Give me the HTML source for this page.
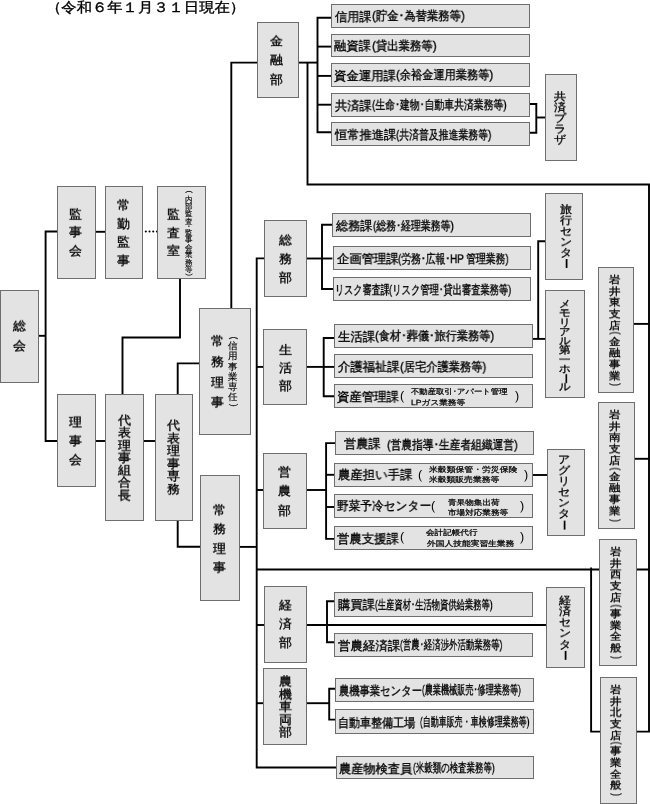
<!DOCTYPE html>
<html lang="ja"><head><meta charset="utf-8"><title>組織図</title><style>
html,body{margin:0;padding:0;background:#fff}
body{width:650px;height:804px;position:relative;overflow:hidden;font-family:"Liberation Sans",sans-serif;color:#000;font-weight:normal;text-rendering:geometricPrecision;-webkit-text-stroke:0.35px #000}
.g{position:absolute;left:0;top:0}
.t{position:absolute;white-space:nowrap;line-height:1;transform-origin:0 0;will-change:transform}
.v{width:1em;text-align:center;white-space:normal;word-break:break-all;line-break:anywhere}
.r{display:inline-block;transform:rotate(90deg)}
.p{display:block;transform:rotate(90deg) scaleX(.75)}
.d{display:block}

</style></head><body>
<svg class="g" width="650" height="804" viewBox="0 0 650 804">
<g fill="none" stroke="#000" stroke-width="1.9" stroke-linejoin="miter" stroke-linecap="butt">
<polyline points="38.3,335.8 45.6,335.8"/>
<polyline points="57.4,231.5 45.6,231.5 45.6,441 57.4,441"/>
<polyline points="95.7,231.8 105.3,231.8"/>
<polyline points="180,278.3 180,337.5 122.5,337.5 122.5,394.5"/>
<polyline points="95.7,441 105.3,441"/>
<polyline points="143.2,441 155.4,441"/>
<polyline points="177.7,394.5 177.7,363.4 199.5,363.4"/>
<polyline points="177.7,520.3 177.7,546.8 200.5,546.8"/>
<polyline points="231.3,308.7 231.3,62.6 257.3,62.6"/>
<polyline points="298.3,62.6 317.5,62.6"/>
<polyline points="331.1,17.8 317.5,17.8 317.5,132.3 331.1,132.3"/>
<polyline points="317.5,46.6 331.1,46.6"/>
<polyline points="317.5,75.9 331.1,75.9"/>
<polyline points="317.5,104.7 331.1,104.7"/>
<polyline points="307.5,62.6 307.5,184.5 649,184.5 649,731.6 636,731.6"/>
<polyline points="633.9,323.9 649,323.9"/>
<polyline points="634.9,458.8 649,458.8"/>
<polyline points="264.5,258.4 256.7,258.4 256.7,767.5 336,767.5"/>
<polyline points="256.7,366.9 263.8,366.9"/>
<polyline points="256.7,490 263.8,490"/>
<polyline points="239.4,546.9 256.7,546.9"/>
<polyline points="256.7,569.5 649,569.5"/>
<polyline points="256.7,625 264.5,625"/>
<polyline points="306.4,625 546.7,625"/>
<polyline points="256.7,703.2 263.8,703.2"/>
<polyline points="306.4,703.2 329.2,703.2"/>
<polyline points="306.4,258.5 332.4,258.5"/>
<polyline points="332.4,224.7 322,224.7 322,289 333.2,289"/>
<polyline points="306.4,366.9 334.2,366.9"/>
<polyline points="334.2,338 323.7,338 323.7,396.3 334.2,396.3"/>
<polyline points="306.4,490 326.1,490"/>
<polyline points="335.3,443.1 326.1,443.1 326.1,538.9 334.9,538.9"/>
<polyline points="326,474.8 335,474.8"/>
<polyline points="326,507 335,507"/>
<polyline points="334.6,601.2 327,601.2 327,642.3 334.6,642.3"/>
<polyline points="335.3,688.8 329.2,688.8 329.2,719.6 335.3,719.6"/>
<polyline points="529.1,104 536.3,104 536.3,132.7 529.1,132.7"/>
<polyline points="536.3,117.5 545.1,117.5"/>
<polyline points="545.4,241.3 538.2,241.3 538.2,338.9"/>
<polyline points="532.1,338.9 545.3,338.9"/>
<polyline points="533,475 547.2,475"/>
<polyline points="591.1,567.4 591.1,731.6 600.4,731.6"/>
<line x1="145.8" y1="231.5" x2="157.2" y2="231.5" stroke-width="2.1" stroke-linecap="round" stroke-dasharray="0.01 3.7"/>
</g>
<g fill="#e3e3e3" stroke="#6e6e6e" stroke-width="1">
<rect x="0.5" y="290.5" width="38" height="92"/>
<rect x="57.5" y="186.5" width="38" height="92"/>
<rect x="105.5" y="186.5" width="37" height="92"/>
<rect x="157.5" y="186.5" width="48" height="92"/>
<rect x="57.5" y="394.5" width="38" height="92"/>
<rect x="105.5" y="394.5" width="38" height="126"/>
<rect x="155.5" y="394.5" width="37" height="126"/>
<rect x="199.5" y="308.5" width="51" height="126"/>
<rect x="200.5" y="475.5" width="39" height="125"/>
<rect x="257.5" y="22.5" width="41" height="75"/>
<rect x="264.5" y="220.5" width="42" height="76"/>
<rect x="263.5" y="329.5" width="43" height="75"/>
<rect x="263.5" y="453.5" width="43" height="75"/>
<rect x="264.5" y="586.5" width="42" height="76"/>
<rect x="263.5" y="668.5" width="43" height="76"/>
<rect x="331.5" y="4.5" width="198" height="23"/>
<rect x="331.5" y="34.5" width="198" height="22"/>
<rect x="331.5" y="63.5" width="198" height="23"/>
<rect x="331.5" y="93.5" width="198" height="23"/>
<rect x="331.5" y="122.5" width="198" height="23"/>
<rect x="332.5" y="213.5" width="198" height="23"/>
<rect x="333.5" y="246.5" width="197" height="23"/>
<rect x="333.5" y="277.5" width="197" height="23"/>
<rect x="334.5" y="324.5" width="198" height="23"/>
<rect x="334.5" y="354.5" width="198" height="23"/>
<rect x="334.5" y="384.5" width="198" height="23"/>
<rect x="335.5" y="431.5" width="198" height="23"/>
<rect x="334.5" y="463.5" width="198" height="23"/>
<rect x="334.5" y="494.5" width="198" height="23"/>
<rect x="334.5" y="526.5" width="198" height="23"/>
<rect x="334.5" y="592.5" width="198" height="24"/>
<rect x="334.5" y="633.5" width="198" height="23"/>
<rect x="335.5" y="678.5" width="198" height="23"/>
<rect x="335.5" y="709.5" width="198" height="24"/>
<rect x="336.5" y="756.5" width="197" height="22"/>
<rect x="545.5" y="74.5" width="31" height="86"/>
<rect x="545.5" y="193.5" width="37" height="86"/>
<rect x="545.5" y="290.5" width="39" height="107"/>
<rect x="547.5" y="449.5" width="37" height="86"/>
<rect x="546.5" y="587.5" width="38" height="80"/>
<rect x="598.5" y="267.5" width="35" height="125"/>
<rect x="598.5" y="402.5" width="36" height="126"/>
<rect x="599.5" y="539.5" width="37" height="126"/>
<rect x="600.5" y="677.5" width="36" height="126"/>
</g></svg>
<span class="t" style="left:46.4px;top:0px;font-size:14px;transform:scaleX(1.0942)">（令和６年１月３１日現在）</span>
<span class="t" style="left:335.01px;top:10.85px;font-size:12.5px;transform:scaleX(0.9733)">信用課</span>
<span class="t" style="left:371.76px;top:9.97px;font-size:12.5px;transform:scaleX(0.9079)">(貯金･為替業務等)</span>
<span class="t" style="left:334.01px;top:39.9px;font-size:12.5px;transform:scaleX(0.9865)">融資課</span>
<span class="t" style="left:371.75px;top:39.9px;font-size:12.5px;transform:scaleX(0.9104)">(貸出業務等)</span>
<span class="t" style="left:334.01px;top:69.7px;font-size:12.5px;transform:scaleX(0.9911)">資金運用課</span>
<span class="t" style="left:396.05px;top:69.45px;font-size:12.5px;transform:scaleX(0.8956)">(余裕金運用業務等)</span>
<span class="t" style="left:334.51px;top:99.6px;font-size:12.5px;transform:scaleX(0.9799)">共済課</span>
<span class="t" style="left:371.83px;top:99.1px;font-size:12.5px;transform:scaleX(0.7876)">(生命･建物･自動車共済業務等)</span>
<span class="t" style="left:334.5px;top:128.9px;font-size:12.5px;transform:scaleX(0.9801)">恒常推進課</span>
<span class="t" style="left:396.1px;top:128.65px;font-size:12.5px;transform:scaleX(0.7883)">(共済普及推進業務等)</span>
<span class="t" style="left:335.9px;top:220.05px;font-size:12.5px;transform:scaleX(0.9720)">総務課</span>
<span class="t" style="left:372.66px;top:220.05px;font-size:12.5px;transform:scaleX(0.7906)">(総務･経理業務等)</span>
<span class="t" style="left:336.6px;top:252.6px;font-size:12.5px;transform:scaleX(0.9872)">企画管理課</span>
<span class="t" style="left:398px;top:252.85px;font-size:12.5px;transform:scaleX(0.7822)">(労務･広報･HP 管理業務)</span>
<span class="t" style="left:334.56px;top:284.3px;font-size:12.5px;transform:scaleX(0.7199)">リスク審査課</span>
<span class="t" style="left:388.76px;top:283.55px;font-size:12.5px;transform:scaleX(0.7389)">(リスク管理･貸出審査業務等)</span>
<span class="t" style="left:338.2px;top:331.3px;font-size:12.5px;transform:scaleX(0.9907)">生活課</span>
<span class="t" style="left:375.05px;top:330.3px;font-size:12.5px;transform:scaleX(0.8926)">(食材･葬儀･旅行業務等)</span>
<span class="t" style="left:337.7px;top:360.8px;font-size:12.5px;transform:scaleX(0.9872)">介護福祉課</span>
<span class="t" style="left:399.92px;top:361.3px;font-size:12.5px;transform:scaleX(0.8987)">(居宅介護業務等)</span>
<span class="t" style="left:337.2px;top:390.9px;font-size:12.5px;transform:scaleX(0.9911)">資産管理課</span>
<span class="t" style="left:400.15px;top:390.05px;font-size:12.5px;-webkit-text-stroke-width:0">(</span>
<span class="t" style="left:515.45px;top:390.05px;font-size:12.5px;-webkit-text-stroke-width:0">)</span>
<span class="t" style="left:410.93px;top:387.55px;font-size:7.5px;transform:scaleX(1.1124);-webkit-text-stroke-width:0.25px">不動産取引･アパート管理</span>
<span class="t" style="left:410.87px;top:398.8px;font-size:7.5px;transform:scaleX(1.1514);-webkit-text-stroke-width:0.25px">LPガス業務等</span>
<span class="t" style="left:344.31px;top:438px;font-size:12.5px;transform:scaleX(0.9770)">営農課</span>
<span class="t" style="left:386.93px;top:438.5px;font-size:12.5px;transform:scaleX(0.8586)">(営農指導･生産者組織運営)</span>
<span class="t" style="left:337.7px;top:469.4px;font-size:12.5px;transform:scaleX(0.9907)">農産担い手課</span>
<span class="t" style="left:417.95px;top:468.75px;font-size:12.5px;-webkit-text-stroke-width:0">(</span>
<span class="t" style="left:523.65px;top:468.75px;font-size:12.5px;-webkit-text-stroke-width:0">)</span>
<span class="t" style="left:428.64px;top:465.65px;font-size:7.5px;transform:scaleX(1.1773);-webkit-text-stroke-width:0.25px">米穀類保管・労災保険</span>
<span class="t" style="left:428.63px;top:475.82px;font-size:7.5px;transform:scaleX(1.1707);-webkit-text-stroke-width:0.25px">米穀類販売業務等</span>
<span class="t" style="left:337.22px;top:500.15px;font-size:12.5px;transform:scaleX(0.9343)">野菜予冷センター</span>
<span class="t" style="left:431.45px;top:499.75px;font-size:12.5px;-webkit-text-stroke-width:0">(</span>
<span class="t" style="left:520.45px;top:499.75px;font-size:12.5px;-webkit-text-stroke-width:0">)</span>
<span class="t" style="left:447.69px;top:498.85px;font-size:7.5px;transform:scaleX(1.1464);-webkit-text-stroke-width:0.25px">青果物集出荷</span>
<span class="t" style="left:447.69px;top:509.1px;font-size:7.5px;transform:scaleX(1.1445);-webkit-text-stroke-width:0.25px">市場対応業務等</span>
<span class="t" style="left:337.2px;top:532.55px;font-size:12.5px;transform:scaleX(0.9919)">営農支援課</span>
<span class="t" style="left:399.85px;top:531.15px;font-size:12.5px;-webkit-text-stroke-width:0">(</span>
<span class="t" style="left:520.45px;top:531.15px;font-size:12.5px;-webkit-text-stroke-width:0">)</span>
<span class="t" style="left:426.43px;top:529.15px;font-size:7.5px;transform:scaleX(1.1444);-webkit-text-stroke-width:0.25px">会計記帳代行</span>
<span class="t" style="left:426.96px;top:539.5px;font-size:7.5px;transform:scaleX(1.1640);-webkit-text-stroke-width:0.25px">外国人技能実習生業務</span>
<span class="t" style="left:337.6px;top:599.15px;font-size:12.5px;transform:scaleX(0.9867)">購買課</span>
<span class="t" style="left:375.42px;top:598.6px;font-size:12.5px;transform:scaleX(0.6636)">(生産資材･生活物資供給業務等)</span>
<span class="t" style="left:337.6px;top:639.8px;font-size:12.5px;transform:scaleX(0.9968)">営農経済課</span>
<span class="t" style="left:400.16px;top:638.55px;font-size:12.5px;transform:scaleX(0.6725)">(営農･経済渉外活動業務等)</span>
<span class="t" style="left:338.59px;top:684.75px;font-size:12.5px;transform:scaleX(0.8235)">農機事業センター</span>
<span class="t" style="left:421.63px;top:684px;font-size:12.5px;transform:scaleX(0.6497)">(農業機械販売･修理業務等)</span>
<span class="t" style="left:338.14px;top:716.85px;font-size:12.5px;transform:scaleX(0.8822)">自動車整備工場</span>
<span class="t" style="left:419.9px;top:716.1px;font-size:12.5px;transform:scaleX(0.6401)">(自動車販売・車検修理業務等)</span>
<span class="t" style="left:338.7px;top:762.85px;font-size:12.5px;transform:scaleX(0.9766)">農産物検査員</span>
<span class="t" style="left:412.89px;top:762.1px;font-size:12.5px;transform:scaleX(0.6742)">(米穀類の検査業務等)</span>
<div class="t v" style="left:12.8px;top:316.25px;font-size:13px;line-height:21.29px;transform:scaleY(0.9400)">総会</div>
<div class="t v" style="left:68.85px;top:204.7px;font-size:13px;line-height:19.27px;transform:scaleY(0.9400)">監事会</div>
<div class="t v" style="left:117.25px;top:196px;font-size:13px;line-height:19.52px;transform:scaleY(0.9400)">常勤監事</div>
<div class="t v" style="left:166.55px;top:204.7px;font-size:13px;line-height:19.67px;transform:scaleY(0.9400)">監査室</div>
<div class="t v" style="left:184.55px;top:191.8px;font-size:7.5px;line-height:7.4px;-webkit-text-stroke-width:0.15px"><span class="p" style="height:3.5px;line-height:3.5px;transform:translateY(-2px) rotate(90deg) scaleX(1)">(</span>内部監査<span class="d" style="height:3.8px;line-height:3.8px">･</span>監事会業務等<span class="p" style="height:3.5px;line-height:3.5px;transform:rotate(90deg) scaleX(1)">)</span></div>
<div class="t v" style="left:69.1px;top:412.6px;font-size:13px;line-height:20.15px;transform:scaleY(0.9400)">理事会</div>
<div class="t v" style="left:117.7px;top:413.6px;font-size:13px;line-height:13.27px;transform:scaleY(0.9400)">代表理事組合長</div>
<div class="t v" style="left:166.8px;top:419.4px;font-size:13px;line-height:13.5px;transform:scaleY(0.9400)">代表理事専務</div>
<div class="t v" style="left:210.6px;top:330.65px;font-size:13px;line-height:21.81px;transform:scaleY(0.9400)">常務理事</div>
<div class="t v" style="left:227.75px;top:338.2px;font-size:9.5px;line-height:10.12px;-webkit-text-stroke-width:0.15px"><span class="p" style="height:4.3px;line-height:4.3px;transform:translateY(-2.2px) rotate(90deg) scaleX(0.9)">(</span>信用事業専任<span class="p" style="height:4.3px;line-height:4.3px;transform:rotate(90deg) scaleX(0.9)">)</span></div>
<div class="t v" style="left:213.4px;top:500.6px;font-size:13px;line-height:20.25px;transform:scaleY(0.9400)">常務理事</div>
<div class="t v" style="left:270.4px;top:32px;font-size:13px;line-height:20.25px;transform:scaleY(0.9400)">金融部</div>
<div class="t v" style="left:279.2px;top:231.1px;font-size:13px;line-height:20.15px;transform:scaleY(0.9400)">総務部</div>
<div class="t v" style="left:278.7px;top:340.5px;font-size:13px;line-height:19.22px;transform:scaleY(0.9400)">生活部</div>
<div class="t v" style="left:278.4px;top:462.9px;font-size:13px;line-height:20.31px;transform:scaleY(0.9400)">営農部</div>
<div class="t v" style="left:279.2px;top:596px;font-size:13px;line-height:19.78px;transform:scaleY(0.9400)">経済部</div>
<div class="t v" style="left:279.2px;top:674.5px;font-size:13px;line-height:13.53px;transform:scaleY(0.9400)">農機車両部</div>
<div class="t v" style="left:553.9px;top:92.1px;font-size:12px;line-height:11.9px;transform:scaleY(0.9000)">共済プラザ</div>
<div class="t v" style="left:560.25px;top:203.8px;font-size:12px;line-height:12.09px;transform:scaleY(0.9000)">旅行センタ<span class="r">ー</span></div>
<div class="t v" style="left:559.1px;top:299.85px;font-size:11.5px;line-height:10.27px;transform:scaleY(0.9000)">メモリアル第一ホ<span class="r">ー</span>ル</div>
<div class="t v" style="left:558px;top:454px;font-size:12px;line-height:12.09px;transform:scaleY(0.9000)">アグリセンタ<span class="r">ー</span></div>
<div class="t v" style="left:559.3px;top:594.9px;font-size:12px;line-height:12.13px;transform:scaleY(0.9000)">経済センタ<span class="r">ー</span></div>
<div class="t v" style="left:608.5px;top:275.4px;font-size:11.5px;line-height:12.67px;transform:scaleY(0.9000)">岩井東支店<span class="p" style="height:5.2px;line-height:5.2px;transform:translateY(-1.2px) rotate(90deg) scaleX(0.75)">(</span>金融事業<span class="p" style="height:5.2px;line-height:5.2px;transform:rotate(90deg) scaleX(0.75)">)</span></div>
<div class="t v" style="left:608.9px;top:409.7px;font-size:11.5px;line-height:12.7px;transform:scaleY(0.9000)">岩井南支店<span class="p" style="height:5.2px;line-height:5.2px;transform:translateY(-1.2px) rotate(90deg) scaleX(0.75)">(</span>金融事業<span class="p" style="height:5.2px;line-height:5.2px;transform:rotate(90deg) scaleX(0.75)">)</span></div>
<div class="t v" style="left:609.75px;top:547px;font-size:11.5px;line-height:12.73px;transform:scaleY(0.9000)">岩井西支店<span class="p" style="height:5.2px;line-height:5.2px;transform:translateY(-1.2px) rotate(90deg) scaleX(0.75)">(</span>事業全般<span class="p" style="height:5.2px;line-height:5.2px;transform:rotate(90deg) scaleX(0.75)">)</span></div>
<div class="t v" style="left:609.75px;top:685px;font-size:11.5px;line-height:12.66px;transform:scaleY(0.9000)">岩井北支店<span class="p" style="height:5.2px;line-height:5.2px;transform:translateY(-1.2px) rotate(90deg) scaleX(0.75)">(</span>事業全般<span class="p" style="height:5.2px;line-height:5.2px;transform:rotate(90deg) scaleX(0.75)">)</span></div>
</body></html>
